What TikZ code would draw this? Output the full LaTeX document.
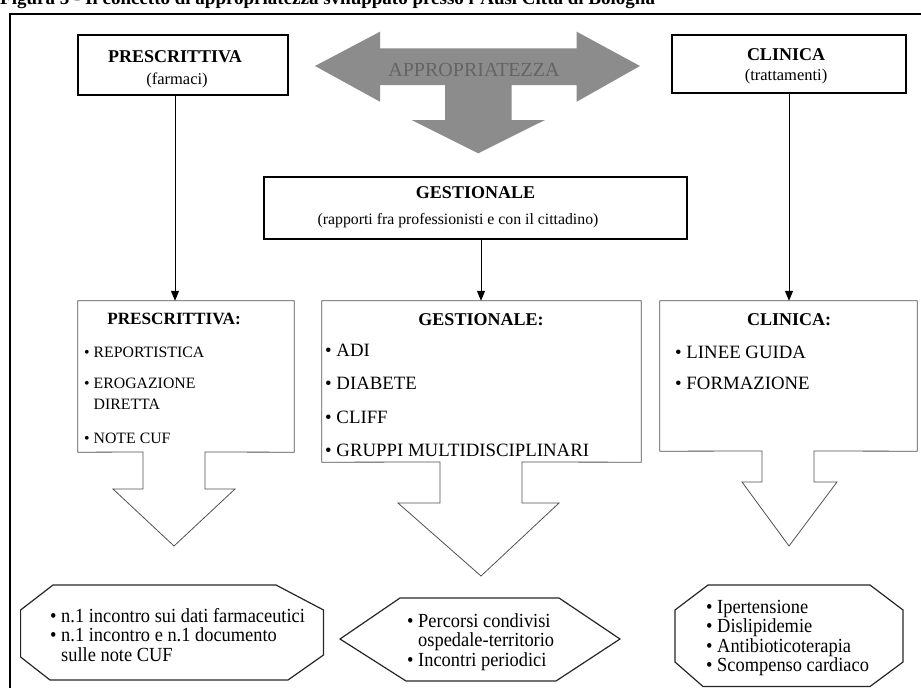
\documentclass[tikz,border=0pt]{standalone}
\usepackage{fontspec}
\setmainfont{Liberation Serif}
\newfontfamily\condfont[FakeStretch=0.92]{Liberation Serif}
\usetikzlibrary{arrows.meta,calc}
\definecolor{bigarrow}{RGB}{140,140,140}
\definecolor{bigtext}{RGB}{100,100,100}
\definecolor{thinline}{RGB}{80,80,80}
\begin{document}
\begin{tikzpicture}[x=1pt,y=-1pt,
  hdr/.style={font=\fontsize{18}{20}\selectfont\bfseries, inner sep=0},
  sub/.style={font=\fontsize{16.5}{18}\selectfont, inner sep=0},
  item/.style={font=\fontsize{18.8}{22}\selectfont, anchor=west, inner sep=0, align=left},
  itemsm/.style={font=\fontsize{15.8}{21}\selectfont, anchor=west, inner sep=0, align=left},
  topbox/.style={draw, line width=1.1pt, inner sep=0},
  region/.style={inner sep=0},
  boxline/.style={draw=thinline, line width=0.8pt},
  octline/.style={draw=black!85, line width=1.2pt},
  octtext/.style={font=\condfont\fontsize{20}{19.5}\selectfont, anchor=west, inner sep=0, align=left},
  conn/.style={line width=1pt, -{Triangle[length=10pt,width=8pt]}}
]
\useasboundingbox (0,0) rectangle (921,688);
\clip (0,0) rectangle (921,688);

% title (cut off at the top, as in the reference)
\node[font=\fontsize{19}{21}\selectfont\bfseries, anchor=base west, inner sep=0] (title) at (0,5)
  {Figura 5 - Il concetto di appropriatezza sviluppato presso l'Ausl Città di Bologna};

% outer frame
\draw[line width=1.6pt] (10,700) -- (10,14) -- (930,14);

% big grey arrow
\fill[bigarrow] (315,66) -- (380,31.7) -- (380,48.3) -- (576.7,48.3) -- (576.7,31.7) -- (640,66) -- (576.7,101.7) -- (576.7,85) -- (511.7,85) -- (511.7,120) -- (545,120) -- (478.3,153.3) -- (411.7,120) -- (445,120) -- (445,85) -- (380,85) -- (380,101.7) -- cycle;
\node[font=\fontsize{20}{22}\selectfont, text=bigtext, inner sep=0] (ap) at (474,70) {APPROPRIATEZZA};

% top boxes
\node[topbox, minimum width=210, minimum height=60] (p1) at (183,65) {};
\node[hdr] (p1h) at (175,57) {PRESCRITTIVA};
\node[sub] (p1s) at (177,80) {(farmaci)};

\node[topbox, minimum width=234, minimum height=58] (c1) at (789,64) {};
\node[hdr] (c1h) at (786,55) {CLINICA};
\node[sub] (c1s) at (786,77) {(trattamenti)};

\node[topbox, minimum width=423, minimum height=62] (g1) at (475.5,208) {};
\node[hdr] (g1h) at (475.5,193) {GESTIONALE};
\node[sub, font=\fontsize{15.8}{18}\selectfont] (g1s) at (458,221) {(rapporti fra professionisti e con il cittadino)};

% lower boxes (regions)
\node[region, minimum width=216, minimum height=151] (pl) at (186,376.5) {};
\node[region, minimum width=319, minimum height=161] (gl) at (481.5,381.5) {};
\node[region, minimum width=257, minimum height=150] (cl) at (788.5,376) {};

\draw[boxline] (pl.north west) -- (pl.north east) -- (pl.south east) -- (205,452) -- (205,489) -- (235,489) -- (174,546) -- (113,489) -- (143,489) -- (143,452) -- (pl.south west) -- cycle;
\draw[boxline] (gl.north west) -- (gl.north east) -- (gl.south east) -- (522,462) -- (522,503) -- (559,503) -- (481,576) -- (398,503) -- (440,503) -- (440,462) -- (gl.south west) -- cycle;
\draw[boxline] (cl.north west) -- (cl.north east) -- (cl.south east) -- (814,451) -- (814,482) -- (837,482) -- (789,546) -- (742,482) -- (762,482) -- (762,451) -- (cl.south west) -- cycle;

% lower box contents
\node[hdr, font=\fontsize{17.2}{20}\selectfont\bfseries] (plh) at (174,319) {PRESCRITTIVA:};
\node[itemsm] (pl1) at (84,352) {• REPORTISTICA};
\node[itemsm] (pl2) at (84,394) {• EROGAZIONE\\\phantom{• }DIRETTA};
\node[itemsm] (pl3) at (84,438) {• NOTE CUF};

\node[hdr] (glh) at (481,320) {GESTIONALE:};
\node[item] (gl1) at (325,350) {• ADI};
\node[item] (gl2) at (325,383) {• DIABETE};
\node[item] (gl3) at (325,417) {• CLIFF};
\node[item] (gl4) at (325,450) {• GRUPPI MULTIDISCIPLINARI};

\node[hdr] (clh) at (789,320) {CLINICA:};
\node[item] (cl1) at (675,352) {• LINEE GUIDA};
\node[item] (cl2) at (675,383) {• FORMAZIONE};

% connectors
\draw[conn] (p1h |- p1.south) -- (p1h |- pl.north);
\draw[conn] (glh |- g1.south) -- (glh |- gl.north);
\draw[conn] (clh |- c1.south) -- (clh |- cl.north);

% bottom shapes
\draw[octline] (53,585) -- (276,585) -- (323.5,610) -- (323.5,655) -- (288,680) -- (50,680) -- (20.6,657) -- (20.6,610) -- cycle;
\node[octtext] (po) at (50,635) {• n.1 incontro sui dati farmaceutici\\• n.1 incontro e n.1 documento\\\phantom{• }sulle note CUF};

\draw[octline] (400,598) -- (559,598) -- (620,639) -- (556,681) -- (406,681) -- (340,639) -- cycle;
\node[octtext] (go) at (407,642) {• Percorsi condivisi\\\phantom{• }ospedale-territorio\\• Incontri periodici};

\draw[octline] (708,585) -- (870,585) -- (903,610) -- (903,662) -- (870,686.5) -- (703,686.5) -- (675,662) -- (675,610) -- cycle;
\node[octtext] (co) at (706,638) {• Ipertensione\\• Dislipidemie\\• Antibioticoterapia\\• Scompenso cardiaco};
\end{tikzpicture}
\end{document}
